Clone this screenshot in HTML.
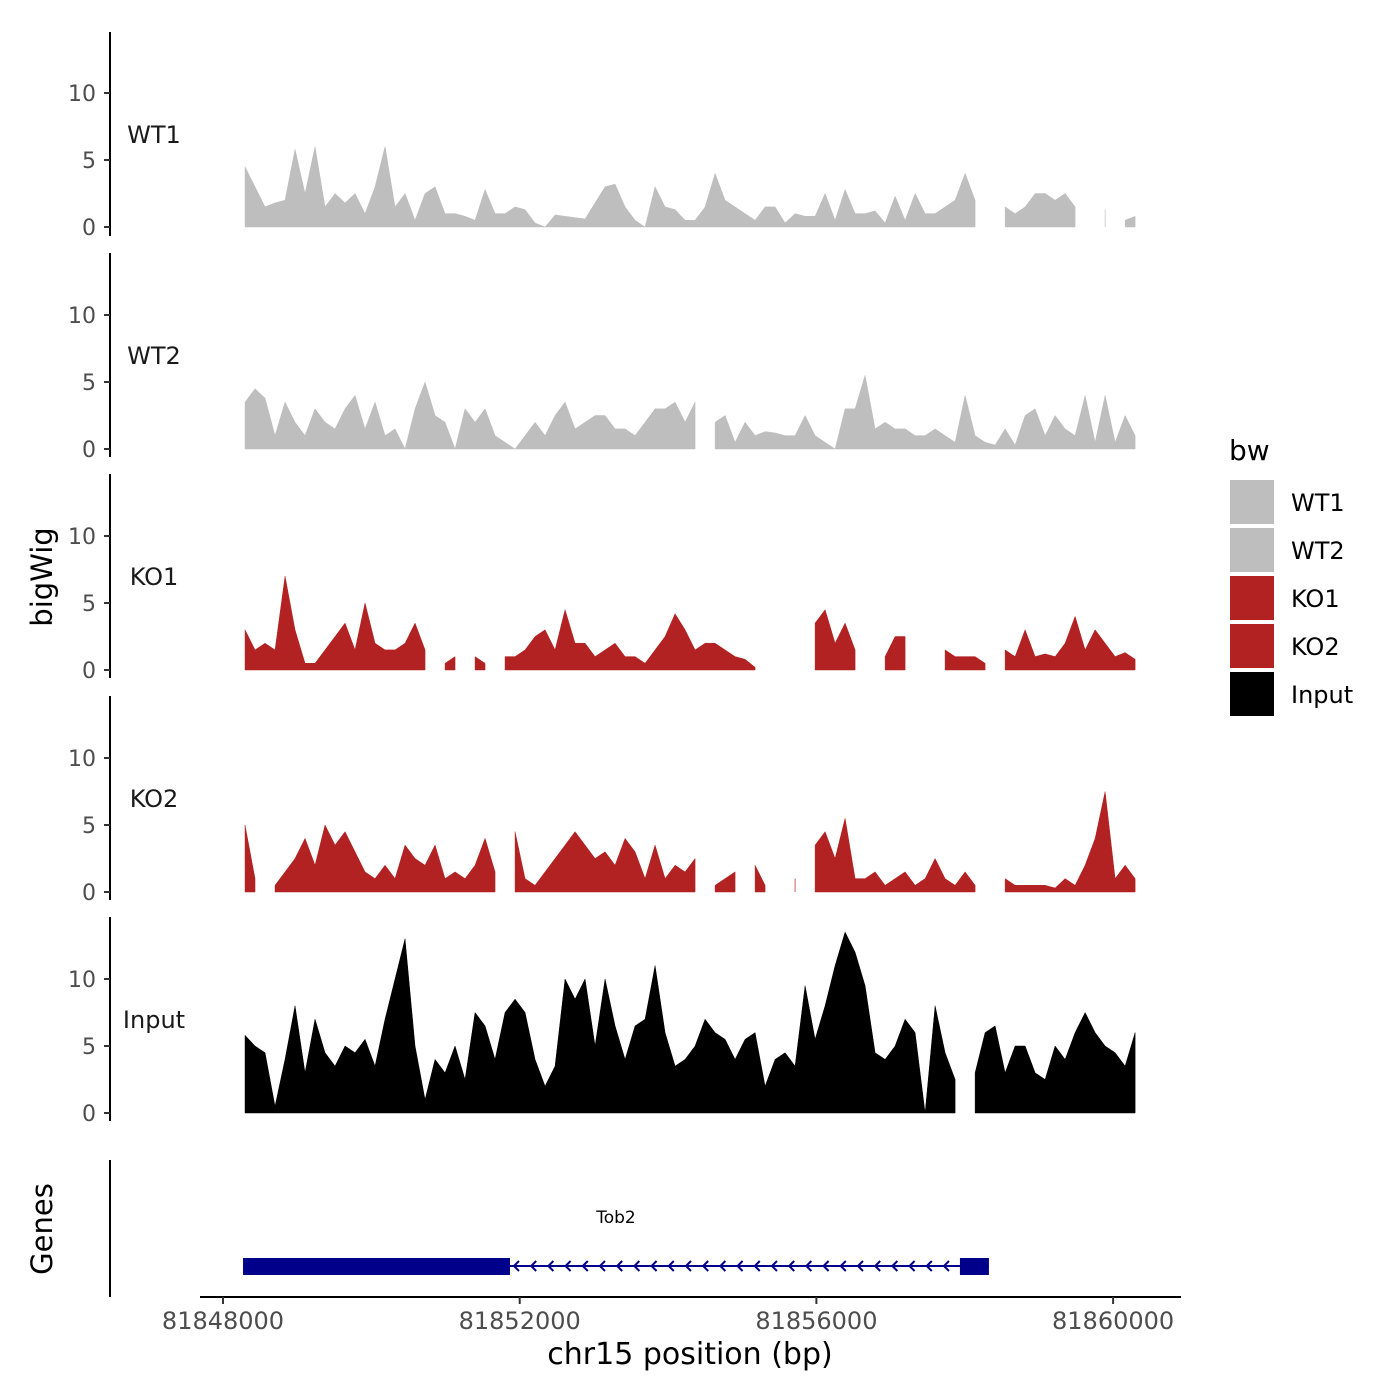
<!DOCTYPE html>
<html><head><meta charset="utf-8"><style>
html,body{margin:0;padding:0;background:#fff;}
svg{display:block;font-family:"DejaVu Sans","Liberation Sans",sans-serif;}
</style></head><body>
<svg id="chart" width="1400" height="1400" viewBox="0 0 1400 1400"></svg>
<script>
const trackNames = ["WT1","WT2","KO1","KO2","Input"];
const trackColors = ["#bebebe","#bebebe","#b22222","#b22222","#000000"];
const yTicks = [0,5,10];
const xTicks = [81848000,81852000,81856000,81860000];
const xTickLabels = ["81848000","81852000","81856000","81860000"];
const dataStart = 81848297;
const dataEnd = 81860297;
const N = null;
const wt1 = [4.5,3,1.5,1.8,2,5.8,2.5,6,1.5,2.5,1.8,2.5,1,3,6,1.5,2.5,0.5,2.5,3,1,1,0.8,0.5,2.8,1,1,1.5,1.3,0.3,0,0.9,0.8,0.7,0.6,1.8,3,3.2,1.5,0.5,0,3,1.5,1.3,0.5,0.5,1.5,4,2,1.5,1,0.5,1.5,1.5,0.3,1,0.8,0.8,2.5,0.5,2.8,1,1,1.2,0.3,2.3,0.5,2.5,1,1,1.5,2,4,2,N,N,1.5,1,1.5,2.5,2.5,2,2.5,1.5,N,N,1.3,N,0.5,0.8];
const wt2 = [3.5,4.5,3.8,1,3.5,2,1,3,2,1.5,3,4,1.5,3.5,1,1.5,0,3,5,2.5,2,0,3,2,3,1,0.5,0,1,2,1,2.5,3.5,1.5,2,2.5,2.5,1.5,1.5,1,2,3,3,3.5,2,3.5,N,2,2.5,0.5,2,1,1.3,1.2,1,1,2.5,1,0.5,0,3,3,5.5,1.5,2,1.5,1.5,1,1,1.5,1,0.5,4,1,0.5,0.3,1.5,0.3,2.5,3,1,2.5,1.5,1,4,0.5,4,0.5,2.5,1];
const ko1 = [3,1.5,2,1.5,7,3,0.5,0.5,1.5,2.5,3.5,1.5,5,2,1.5,1.5,2,3.5,1.5,N,0.5,1,N,1,0.5,N,1,1,1.5,2.5,3,1.5,4.5,2,2,1,1.5,2,1,1,0.5,1.5,2.5,4.2,3,1.5,2,2,1.5,1,0.8,0.2,N,N,N,N,N,3.5,4.5,2,3.5,1.5,N,N,1,2.5,2.5,N,N,N,1.5,1,1,1,0.5,N,1.5,1,3,1,1.2,1,2,4,1.5,3,2,1,1.3,0.8];
const ko2 = [5,1,N,0.5,1.5,2.5,4,2,5,3.5,4.5,3,1.5,1,2,1,3.5,2.5,2,3.5,1,1.5,1,2,4,1.5,N,4.5,1,0.5,1.5,2.5,3.5,4.5,3.5,2.5,3,2,4,3,1,3.5,1,2,1.5,2.5,N,0.5,1,1.5,N,2,0.5,N,N,1,N,3.5,4.5,2.5,5.5,1,1,1.5,0.5,1,1.5,0.5,1,2.5,1,0.5,1.5,0.5,N,N,1,0.5,0.5,0.5,0.5,0.3,1,0.5,2,4,7.5,1,2,1];
const input = [5.8,5,4.5,0.5,4,8,3,7,4.5,3.5,5,4.5,5.5,3.5,7,10,13,5,1,4,3,5,2.5,7.5,6.5,4,7.5,8.5,7.5,4,2,3.5,10,8.5,10,5,10,6.5,4,6.5,7,11,6,3.5,4,5,7,6,5.5,4,5.5,6,2,4,4.5,3.5,9.5,5.5,8,11,13.5,12,9.5,4.5,4,5,7,6,0,8,4.5,2.5,N,3,6,6.5,3,5,5,3,2.5,5,4,6,7.5,6,5,4.5,3.5,6];
const trackValues = [wt1,wt2,ko1,ko2,input];
const geneName = "Tob2";
const geneStart = 81848270, geneEnd = 81858326;
const exons = [[81848270,81851869],[81857935,81858326]];

const svg = document.getElementById('chart');
const NS = "http://www.w3.org/2000/svg";
function mk(tag, attrs, parent){const e=document.createElementNS(NS,tag);for(const k in attrs)e.setAttribute(k,attrs[k]);(parent||svg).appendChild(e);return e;}
function xs(bp){return 223 + (bp-81848000)*296.7/4000;}
const baselines = [227,449,670,892,1113];
const pxPerUnit = 13.4;
const axisTops = [32,253,474,696,917];

trackNames.forEach((name,t)=>{
  const g = mk('g',{});
  
  
  const base = baselines[t];
  const ys = v => base - v*pxPerUnit;
  const ax = mk('line',{x1:110,x2:110,y1:axisTops[t],y2:axisTops[t]+204,stroke:'#000','stroke-width':2},g);
  
  
  yTicks.forEach(v=>{
    mk('line',{x1:104,x2:110,y1:ys(v),y2:ys(v),stroke:'#333','stroke-width':2},g);
    const tl = mk('text',{x:96,y:ys(v)+8,'text-anchor':'end','font-size':22,fill:'#4d4d4d'},g);
    tl.textContent = v;
    
    
  });
  const lab = mk('text',{x:154,y:axisTops[t]+111,'text-anchor':'middle','font-size':24,fill:'#1a1a1a'},g);
  lab.textContent = name;
  
  
  const vals = trackValues[t];
  const n = vals.length;
  const xv = i => xs(dataStart + (dataEnd-dataStart)*i/(n-1));
  let seg = [];
  const flush = ()=>{
    if(seg.length>=1){
      let d = 'M'+xv(seg[0])+','+base;
      seg.forEach(i=>{d+=' L'+xv(i)+','+ys(vals[i]);});
      d += ' L'+xv(seg[seg.length-1])+','+base+' Z';
      const p = mk('path',{d:d,fill:trackColors[t],stroke:trackColors[t],'stroke-width':0.5},g);
      
      
    }
    seg=[];
  };
  vals.forEach((v,i)=>{ if(v===null) flush(); else seg.push(i); });
  flush();
});

// genes panel
const gg = mk('g',{});


mk('line',{x1:110,x2:110,y1:1160,y2:1297,stroke:'#000','stroke-width':2},gg);
mk('line',{x1:xs(geneStart),x2:xs(geneEnd),y1:1266,y2:1266,stroke:'#00008b','stroke-width':2},gg);
for(let x=xs(exons[0][1])+4; x<xs(exons[1][0])-4; x+=17.2){
  mk('polyline',{points:(x+5)+',1261 '+x+',1266 '+(x+5)+',1271',fill:'none',stroke:'#00008b','stroke-width':2},gg);
}
exons.forEach(e=>{
  const r = mk('rect',{x:xs(e[0]),y:1258,width:xs(e[1])-xs(e[0]),height:17,fill:'#00008b'},gg);
  
  
});
const gl = mk('text',{x:(xs(geneStart)+xs(geneEnd))/2,y:1223,'text-anchor':'middle','font-size':17,fill:'#000'},gg);
gl.textContent = geneName;



// x axis
const xa = mk('line',{x1:200,x2:1181,y1:1297,y2:1297,stroke:'#000','stroke-width':2});


xTicks.forEach((v,i)=>{
  mk('line',{x1:xs(v),x2:xs(v),y1:1297,y2:1304,stroke:'#333','stroke-width':2});
  const tl = mk('text',{x:xs(v),y:1329,'text-anchor':'middle','font-size':24,fill:'#4d4d4d'});
  tl.textContent = xTickLabels[i];
  
  
});
const xt = mk('text',{x:690,y:1364,'text-anchor':'middle','font-size':30,fill:'#000'});
xt.textContent = "chr15 position (bp)";


const yt = mk('text',{x:52,y:577,'text-anchor':'middle','font-size':29,fill:'#000',transform:'rotate(-90 52 577)'});
yt.textContent = "bigWig";


const gt = mk('text',{x:52,y:1229,'text-anchor':'middle','font-size':29,fill:'#000',transform:'rotate(-90 52 1229)'});
gt.textContent = "Genes";



// legend
const lg = mk('g',{});


const lt = mk('text',{x:1229,y:460,'font-size':28,fill:'#000'},lg);
lt.textContent = "bw";
trackNames.forEach((name,i)=>{
  const y = 480 + i*48;
  const r = mk('rect',{x:1230,y:y,width:44,height:44,fill:trackColors[i]},lg);
  
  
  const t = mk('text',{x:1291,y:y+31,'font-size':24,fill:'#000'},lg);
  t.textContent = name;
  
  
});
</script>
</body></html>
